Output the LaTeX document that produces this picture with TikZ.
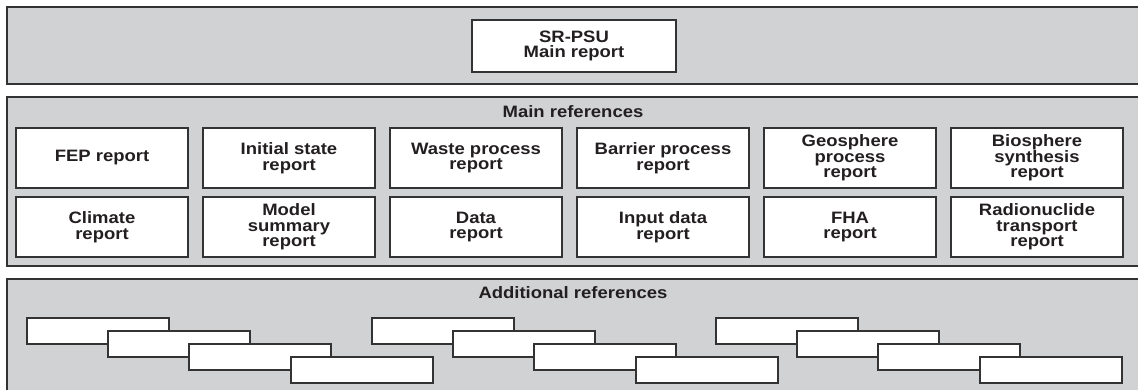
\documentclass[tikz,border=0pt]{standalone}
\usepackage{fontspec}
\setmainfont[FakeStretch=1.12]{Liberation Sans}
\definecolor{panelgrey}{HTML}{D1D2D4}
\definecolor{linecol}{HTML}{333333}
\definecolor{textcol}{HTML}{231F20}
\newcommand\reffont{\fontsize{16.5}{15.5}\selectfont\bfseries}
\tikzset{
  panel/.style={draw=linecol, line width=1.6pt, fill=panelgrey, anchor=north west, inner sep=0pt, outer sep=0pt},
  refbox/.style={draw=linecol, line width=1.3pt, fill=white, anchor=north west, minimum width=172pt, minimum height=60pt, inner sep=0pt, outer sep=0pt, align=center, font=\reffont, text=textcol},
  addbox/.style={draw=linecol, line width=1.3pt, fill=white, anchor=north west, minimum width=142pt, minimum height=26pt, inner sep=0pt, outer sep=0pt},
  paneltitle/.style={font=\reffont, text=textcol, inner sep=0pt}
}
\begin{document}
\begin{tikzpicture}[x=1pt,y=-1pt]
\useasboundingbox (0,0) rectangle (1138,389);
\clip (0,0) rectangle (1138,389);
% panels
\node[panel, minimum width=1140pt, minimum height=77pt] (p1) at (7,7) {};
\node[panel, minimum width=1140pt, minimum height=169pt] (p2) at (7,97) {};
\node[panel, minimum width=1140pt, minimum height=130pt] (p3) at (7,279) {};
% main report
\node[refbox, minimum width=204pt, minimum height=52pt] (main) at (472,20) {SR-PSU\\Main report};
% main references
\node[paneltitle] (mref) at (573,112) {Main references};
\node[refbox] (fep)  at (16,128)  {FEP report};
\node[refbox] (ini)  at (203,128) {Initial state\\report};
\node[refbox] (wpr)  at (390,128) {Waste process\\report};
\node[refbox] (bpr)  at (577,128) {Barrier process\\report};
\node[refbox] (gpr)  at (764,128) {Geosphere\\process\\report};
\node[refbox] (bio)  at (951,128) {Biosphere\\synthesis\\report};
\node[refbox] (cli)  at (16,197)  {Climate\\report};
\node[refbox] (msr)  at (203,197) {Model\\summary\\report};
\node[refbox] (dat)  at (390,197) {Data\\report};
\node[refbox] (inp)  at (577,197) {Input data\\report};
\node[refbox] (fha)  at (764,197) {FHA\\report};
\node[refbox] (rad)  at (951,197) {Radionuclide\\transport\\report};
% additional references
\node[paneltitle] (aref) at (573,293) {Additional references};
\foreach \g/\dx in {1/0, 2/345, 3/689}{
  \node[addbox] (a\g-1) at (27+\dx,318) {};
  \node[addbox] (a\g-2) at (108+\dx,331) {};
  \node[addbox] (a\g-3) at (189+\dx,344) {};
  \node[addbox] (a\g-4) at (291+\dx,357) {};
}
\end{tikzpicture}
\end{document}
